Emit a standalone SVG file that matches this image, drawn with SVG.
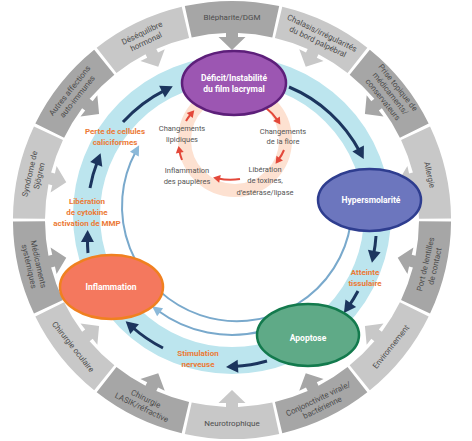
<svg xmlns="http://www.w3.org/2000/svg" width="472" height="441" viewBox="0 0 472 441">
<style>
.seg-d{fill:#a6a6a6}
.seg-l{fill:#c8c8c8}
.rl{font-family:Roboto,"Open Sans",sans-serif;font-size:8px;fill:#4d4d4d;text-anchor:middle}
.nl{font-family:Roboto,"Open Sans",sans-serif;font-size:8.5px;font-weight:bold;fill:#ffffff;text-anchor:middle}
.ol{font-family:Roboto,"Open Sans",sans-serif;font-size:8px;font-weight:bold;fill:#ec7a35;text-anchor:middle}
.gl{font-family:Roboto,"Open Sans",sans-serif;font-size:7.5px;fill:#555555;text-anchor:middle}
.nv{fill:none;stroke:#1c355e;stroke-width:3;marker-end:url(#mNavy)}
.rd{fill:none;stroke:#e3483a;stroke-width:2;marker-end:url(#mRed)}
.tb{fill:none;stroke:#79a9cc;stroke-width:2}
</style>
<defs>
<path id="seg" d="M184.8,6.1 A219,219 0 0 1 279.2,6.1 L272.3,37.4 A187,187 0 0 0 238,33.1 L238,37 L245.5,37 L232,50 L218.5,37 L226,37 L226,33.1 A187,187 0 0 0 191.7,37.4 Z"/>
<marker id="mNavy" markerUnits="userSpaceOnUse" markerWidth="13" markerHeight="13" refX="4" refY="6.5" orient="auto" overflow="visible"><path d="M0,0 L12,6.5 L0,13 Z" fill="#1c355e"/></marker>
<marker id="mRed" markerUnits="userSpaceOnUse" markerWidth="8" markerHeight="8" refX="2" refY="4" orient="auto" overflow="visible"><path d="M0,0 L7,4 L0,8 Z" fill="#e3483a"/></marker>
<marker id="mBlue" markerUnits="userSpaceOnUse" markerWidth="10" markerHeight="10" refX="3" refY="5" orient="auto" overflow="visible"><path d="M0,0 L10,5 L0,10 Z" fill="#8cb9d9"/></marker>
</defs>
<rect width="472" height="441" fill="#ffffff"/>
<circle cx="232" cy="215" r="145.5" fill="none" stroke="#bce5ee" stroke-width="27"/>
<circle cx="235" cy="140" r="50.5" fill="none" stroke="#fde1d1" stroke-width="13"/>
<g id="outer-ring">
<g id="seg-blepharite"><use href="#seg" class="seg-d"/><text class="rl" transform="translate(232,17)"><tspan x="0" y="3">Blépharite/DGM</tspan></text></g>
<g id="seg-chalasis"><use href="#seg" class="seg-l" transform="rotate(25.714 232 220)"/><text class="rl" transform="translate(320.1,37.1) rotate(25.71)"><tspan x="0" y="-1.8">Chalasis/irrégularités</tspan><tspan x="0" y="7.8">du bord palpébral</tspan></text></g>
<g id="seg-prise"><use href="#seg" class="seg-d" transform="rotate(51.429 232 220)"/><text class="rl" transform="translate(390.7,93.4) rotate(51.43)"><tspan x="0" y="-6.6">Prise topique de</tspan><tspan x="0" y="3">médicaments/</tspan><tspan x="0" y="12.6">conservateurs</tspan></text></g>
<g id="seg-allergie"><use href="#seg" class="seg-l" transform="rotate(77.143 232 220)"/><text class="rl" transform="translate(429.9,174.8) rotate(77.14)"><tspan x="0" y="3">Allergie</tspan></text></g>
<g id="seg-lentilles"><use href="#seg" class="seg-d" transform="rotate(102.857 232 220)"/><text class="rl" transform="translate(429.9,265.2) rotate(-77.14)"><tspan x="0" y="-1.8">Port de lentilles</tspan><tspan x="0" y="7.8">de contact</tspan></text></g>
<g id="seg-environnement"><use href="#seg" class="seg-l" transform="rotate(128.571 232 220)"/><text class="rl" transform="translate(390.7,346.6) rotate(-51.43)"><tspan x="0" y="3">Environnement</tspan></text></g>
<g id="seg-conjonctivite"><use href="#seg" class="seg-d" transform="rotate(154.286 232 220)"/><text class="rl" transform="translate(320.1,402.9) rotate(-25.71)"><tspan x="0" y="-1.8">Conjonctivite virale/</tspan><tspan x="0" y="7.8">bactérienne</tspan></text></g>
<g id="seg-neurotrophique"><use href="#seg" class="seg-l" transform="rotate(180 232 220)"/><text class="rl" transform="translate(232,423)"><tspan x="0" y="3">Neurotrophique</tspan></text></g>
<g id="seg-lasik"><use href="#seg" class="seg-d" transform="rotate(205.714 232 220)"/><text class="rl" transform="translate(143.9,402.9) rotate(25.71)"><tspan x="0" y="-1.8">Chirurgie</tspan><tspan x="0" y="7.8">LASIK/réfractive</tspan></text></g>
<g id="seg-chirurgie"><use href="#seg" class="seg-l" transform="rotate(231.429 232 220)"/><text class="rl" transform="translate(73.3,346.6) rotate(51.43)"><tspan x="0" y="3">Chirurgie oculaire</tspan></text></g>
<g id="seg-medicaments"><use href="#seg" class="seg-d" transform="rotate(257.143 232 220)"/><text class="rl" transform="translate(34.1,265.2) rotate(77.14)"><tspan x="0" y="-1.8">Médicaments</tspan><tspan x="0" y="7.8">systémiques</tspan></text></g>
<g id="seg-sjogren"><use href="#seg" class="seg-l" transform="rotate(282.857 232 220)"/><text class="rl" transform="translate(34.1,174.8) rotate(-77.14)"><tspan x="0" y="-1.8">Syndrome de</tspan><tspan x="0" y="7.8">Sjögren</tspan></text></g>
<g id="seg-autoimmunes"><use href="#seg" class="seg-d" transform="rotate(308.571 232 220)"/><text class="rl" transform="translate(73.3,93.4) rotate(-51.43)"><tspan x="0" y="-1.8">Autres affections</tspan><tspan x="0" y="7.8">auto-immunes</tspan></text></g>
<g id="seg-hormonal"><use href="#seg" class="seg-l" transform="rotate(334.286 232 220)"/><text class="rl" transform="translate(143.9,37.1) rotate(-25.71)"><tspan x="0" y="-1.8">Déséquilibre</tspan><tspan x="0" y="7.8">hormonal</tspan></text></g>
</g>
<g id="connectors">
<path class="tb" d="M350.6,224 A115,115 0 1 1 135.8,151.5" marker-end="url(#mBlue)"/>
<path class="tb" d="M262,331.3 A125,125 0 0 1 157.7,310.5" marker-end="url(#mBlue)"/>
<path class="nv" d="M289,87 A142,142 0 0 1 360,152"/>
<path class="nv" d="M376,236 A147,147 0 0 1 373.5,255"/>
<path class="nv" d="M358,291 A145,145 0 0 1 348.5,306.5"/>
<path class="nv" d="M267,361 A150,150 0 0 1 234,366.5"/>
<path class="nv" d="M163,348 A145,145 0 0 1 131.6,326.5"/>
<path class="nv" d="M88,253 A145,145 0 0 1 87.5,238"/>
<path class="nv" d="M90,188 A145,145 0 0 1 97.7,160.7"/>
<path class="nv" d="M123,122 A145,145 0 0 1 165.6,89.8"/>
<path class="rd" d="M266,108 A48,48 0 0 1 277.6,120.4"/>
<path class="rd" d="M284,150 A48,48 0 0 1 278.5,159.7"/>
<path class="rd" d="M240,179 A60,60 0 0 1 218,178.5"/>
<path class="rd" d="M182,160 A48,48 0 0 1 179.4,150.8"/>
<path class="rd" d="M186,121 A48,48 0 0 1 191,114"/>
</g>
<g id="node-deficit"><ellipse cx="234" cy="83" rx="52" ry="32" fill="#9c56b2" stroke="#5d1f7a" stroke-width="2.5"/><text class="nl"><tspan x="234" y="81">Déficit/Instabilité</tspan><tspan x="234" y="92">du film lacrymal</tspan></text></g>
<g id="node-hypersmolarite"><ellipse cx="369.5" cy="200" rx="51.5" ry="31" fill="#6c76be" stroke="#2e3d8f" stroke-width="2.5"/><text class="nl" x="371" y="203">Hypersmolarité</text></g>
<g id="node-apoptose"><ellipse cx="308" cy="335" rx="51" ry="31" fill="#5faa87" stroke="#137a4d" stroke-width="2.5"/><text class="nl" x="308" y="341">Apoptose</text></g>
<g id="node-inflammation"><ellipse cx="111.5" cy="287" rx="51.5" ry="32" fill="#f4785e" stroke="#f08020" stroke-width="2.5"/><text class="nl" x="111" y="290">Inflammation</text></g>
<g id="labels-orange">
<text class="ol"><tspan x="115" y="134">Perte de cellules</tspan><tspan x="115" y="145">caliciformes</tspan></text>
<text class="ol"><tspan x="87" y="204">Libération</tspan><tspan x="87" y="215">de cytokine</tspan><tspan x="87" y="226">activation de MMP</tspan></text>
<text class="ol"><tspan x="365" y="275">Atteinte</tspan><tspan x="365" y="286">tissulaire</tspan></text>
<text class="ol"><tspan x="198" y="356">Stimulation</tspan><tspan x="198" y="367">nerveuse</tspan></text>
</g>
<g id="labels-inner">
<text class="gl"><tspan x="182" y="131">Changements</tspan><tspan x="182" y="142">lipidiques</tspan></text>
<text class="gl"><tspan x="283" y="133.5">Changements</tspan><tspan x="283" y="144">de la flore</tspan></text>
<text class="gl"><tspan x="265" y="172">Libération</tspan><tspan x="265" y="183">de toxines,</tspan><tspan x="265" y="194.5">d’estérase/lipase</tspan></text>
<text class="gl"><tspan x="187" y="173">Inflammation</tspan><tspan x="187" y="184">des paupières</tspan></text>
</g>
</svg>
